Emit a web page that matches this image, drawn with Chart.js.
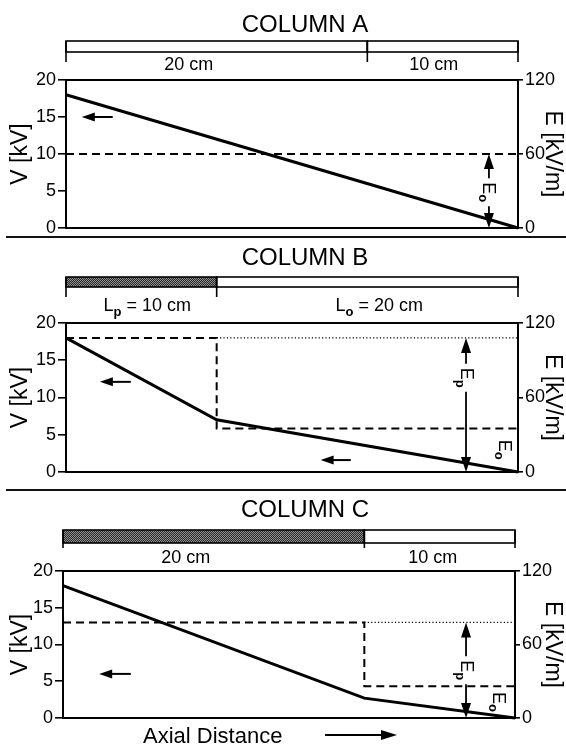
<!DOCTYPE html>
<html><head><meta charset="utf-8">
<script src="https://cdn.jsdelivr.net/npm/chart.js@4.4.1/dist/chart.umd.min.js"></script>
<style>
html,body{margin:0;padding:0;background:#fff;}
#wrap{position:relative;width:566px;height:748px;overflow:hidden;background:#fff;}
canvas{position:absolute;left:0;}
.sep{position:absolute;left:6px;width:560px;height:2px;background:#111;}
</style></head><body>
<div id="wrap">
<canvas id="cA" width="566" height="244" style="top:0px"></canvas>
<canvas id="cB" width="566" height="250" style="top:240px"></canvas>
<canvas id="cC" width="566" height="256" style="top:492px"></canvas>
<div class="sep" style="top:236px"></div>
<div class="sep" style="top:489px"></div>
</div>
<script>
// ---------- data ----------
const vTicks = [0, 5, 10, 15, 20];
const eTicks = [0, 60, 120];

const distA = [0, 30];
const voltA = [18, 0];
const fieldDistA = [0, 30];
const fieldA = [60, 60];
const segLenA = [20, 10];
const segLabelA = ['20 cm', '10 cm'];
const segPackedA = [false, false];

const distB = [0, 10, 30];
const voltB = [18, 7, 0];
const fieldDistB = [0, 10, 10, 30];
const fieldB = [108, 108, 35, 35];
const refDistB = [10, 30];
const refFieldB = [108, 108];
const segLenB = [10, 20];
const segLabelB = ['L_p = 10 cm', 'L_o = 20 cm'];
const segPackedB = [true, false];

const distC = [0, 20, 30];
const voltC = [18, 2.7, 0];
const fieldDistC = [0, 20, 20, 30];
const fieldC = [78, 78, 26, 26];
const refDistC = [20, 30];
const refFieldC = [78, 78];
const segLenC = [20, 10];
const segLabelC = ['20 cm', '10 cm'];
const segPackedC = [true, false];

// ---------- helpers ----------
const FAM = '"Liberation Sans", Arial, Helvetica, sans-serif';
function pts(xs, ys) { return xs.map((x, i) => ({x: x, y: ys[i]})); }

function parseSub(s) {
  const out = [];
  let i = 0;
  while (i < s.length) {
    if (s[i] === '_' && i + 1 < s.length) { out.push([s[i + 1], true]); i += 2; }
    else {
      let j = i;
      while (j < s.length && s[j] !== '_') j++;
      out.push([s.slice(i, j), false]); i = j;
    }
  }
  return out;
}
function drawSubText(ctx, str, cx, cy, size) {
  const parts = parseSub(str);
  const subSize = Math.round(size * 0.72);
  let total = 0;
  parts.forEach(p => { ctx.font = (p[1] ? ('bold ' + subSize) : size) + 'px ' + FAM; total += ctx.measureText(p[0]).width; });
  let x = cx - total / 2;
  ctx.textAlign = 'left';
  ctx.textBaseline = 'alphabetic';
  const base = cy + size * 0.36;
  parts.forEach(p => {
    ctx.font = (p[1] ? ('bold ' + subSize) : size) + 'px ' + FAM;
    ctx.fillText(p[0], x, p[1] ? base + size * 0.25 : base);
    x += ctx.measureText(p[0]).width;
  });
}
function stipple(ctx) {
  const c = document.createElement('canvas'); c.width = 2; c.height = 2;
  const g = c.getContext('2d');
  g.fillStyle = '#2e2e2e'; g.fillRect(0, 0, 2, 2);
  g.fillStyle = '#8a8a8a'; g.fillRect(0, 0, 1, 1); g.fillRect(1, 1, 1, 1);
  return ctx.createPattern(c, 'repeat');
}
function arrowLeft(ctx, xTip, xEnd, y) {
  ctx.lineWidth = 2; ctx.strokeStyle = '#000'; ctx.fillStyle = '#000';
  ctx.beginPath(); ctx.moveTo(xTip + 8, y); ctx.lineTo(xEnd, y); ctx.stroke();
  ctx.beginPath(); ctx.moveTo(xTip, y); ctx.lineTo(xTip + 13, y - 4.5); ctx.lineTo(xTip + 13, y + 4.5); ctx.closePath(); ctx.fill();
}
function arrowRight(ctx, xStart, xTip, y) {
  ctx.lineWidth = 1.8; ctx.strokeStyle = '#000'; ctx.fillStyle = '#000';
  ctx.beginPath(); ctx.moveTo(xStart, y); ctx.lineTo(xTip - 8, y); ctx.stroke();
  ctx.beginPath(); ctx.moveTo(xTip, y); ctx.lineTo(xTip - 16, y - 5); ctx.lineTo(xTip - 16, y + 5); ctx.closePath(); ctx.fill();
}
function rotLabel(ctx, str, x, y, size) {
  ctx.save(); ctx.translate(x, y); ctx.rotate(Math.PI / 2);
  ctx.fillStyle = '#000';
  drawSubText(ctx, str, 0, 0, size);
  ctx.restore();
}

function annot(cfg) {
  return {
    id: 'annot' + cfg.key,
    afterDraw(chart) {
      const ctx = chart.ctx, xs = chart.scales.x, yV = chart.scales.yV, yE = chart.scales.yE;
      ctx.save();
      ctx.fillStyle = '#000'; ctx.strokeStyle = '#000';
      // title
      ctx.font = '24px ' + FAM; ctx.textAlign = 'center'; ctx.textBaseline = 'middle';
      ctx.fillText(cfg.title, 305, cfg.titleY);
      // column bar
      const bounds = [0];
      cfg.segLen.forEach(l => bounds.push(bounds[bounds.length - 1] + l));
      const pat = stipple(ctx);
      for (let i = 0; i < cfg.segLen.length; i++) {
        const x0 = xs.getPixelForValue(bounds[i]), x1 = xs.getPixelForValue(bounds[i + 1]);
        ctx.fillStyle = cfg.packed[i] ? pat : '#fff';
        ctx.fillRect(x0, cfg.barTop, x1 - x0, cfg.barBot - cfg.barTop);
        ctx.lineWidth = 1.6; ctx.strokeStyle = '#000';
        ctx.strokeRect(x0, cfg.barTop, x1 - x0, cfg.barBot - cfg.barTop);
        ctx.fillStyle = '#000';
        drawSubText(ctx, cfg.segLabel[i], (x0 + x1) / 2 + cfg.labelShift[i], cfg.labelY, 18);
      }
      ctx.lineWidth = 1.6;
      bounds.forEach(b => {
        const x = xs.getPixelForValue(b);
        ctx.beginPath(); ctx.moveTo(x, cfg.barTop); ctx.lineTo(x, cfg.tickBot); ctx.stroke();
      });
      // left-pointing arrows (curve belongs to V axis)
      cfg.leftArrows.forEach(a => arrowLeft(ctx, xs.getPixelForValue(a[0]), xs.getPixelForValue(a[1]), yV.getPixelForValue(a[2])));
      // double field arrow
      const fa = cfg.fieldArrow;
      const ax = xs.getPixelForValue(fa.x);
      const yTop = yE.getPixelForValue(fa.eTop), yBot = yE.getPixelForValue(0), yTxt = yE.getPixelForValue(fa.eText);
      ctx.lineWidth = 1.8; ctx.fillStyle = '#000';
      ctx.beginPath(); ctx.moveTo(ax, yTop + 8); ctx.lineTo(ax, yTxt - 14); ctx.moveTo(ax, yTxt + 14); ctx.lineTo(ax, yBot - 8); ctx.stroke();
      ctx.beginPath(); ctx.moveTo(ax, yTop); ctx.lineTo(ax - 5, yTop + 15); ctx.lineTo(ax + 5, yTop + 15); ctx.closePath(); ctx.fill();
      ctx.beginPath(); ctx.moveTo(ax, yBot); ctx.lineTo(ax - 5, yBot - 15); ctx.lineTo(ax + 5, yBot - 15); ctx.closePath(); ctx.fill();
      rotLabel(ctx, fa.label, ax + 1, yTxt, 18);
      if (cfg.eoLabel) {
        rotLabel(ctx, 'E_o', xs.getPixelForValue(cfg.eoLabel[0]), yE.getPixelForValue(cfg.eoLabel[1]), 18);
      }
      if (cfg.axial) {
        ctx.fillStyle = '#000'; ctx.font = '22px ' + FAM; ctx.textAlign = 'left'; ctx.textBaseline = 'middle';
        ctx.fillText('Axial Distance', 143, 245);
        arrowRight(ctx, 325, 397, 243);
      }
      ctx.restore();
    }
  };
}

function makeChart(id, cfg) {
  const canvas = document.getElementById(id);
  const H = canvas.height;
  const datasets = [
    {data: pts(cfg.dist, cfg.volt), yAxisID: 'yV', borderColor: '#000', borderWidth: 3, pointRadius: 0, tension: 0, clip: false},
    {data: pts(cfg.fDist, cfg.field), yAxisID: 'yE', borderColor: '#000', borderWidth: 2, borderDash: [8, 5], pointRadius: 0, tension: 0, clip: false}
  ];
  if (cfg.refDist) datasets.push({data: pts(cfg.refDist, cfg.refField), yAxisID: 'yE', borderColor: '#000', borderWidth: 1.2, borderDash: [1.2, 2.2], pointRadius: 0, tension: 0, clip: false});
  const tickFont = {size: 18, family: FAM};
  return new Chart(canvas, {
    type: 'line',
    data: {datasets: datasets},
    options: {
      responsive: false, animation: false, events: [],
      layout: {padding: {top: cfg.plotTop, bottom: H - cfg.plotBottom, left: 0, right: 0}},
      plugins: {legend: {display: false}, tooltip: {enabled: false}, title: {display: false}},
      scales: {
        x: {type: 'linear', min: 0, max: 30, position: 'bottom',
            ticks: {display: false}, grid: {display: false, drawTicks: false},
            border: {display: true, color: '#000', width: 2},
            afterFit(s) { s.height = 0; }},
        xTop: {type: 'linear', min: 0, max: 30, position: 'top',
            ticks: {display: false}, grid: {display: false, drawTicks: false},
            border: {display: true, color: '#000', width: 2},
            afterFit(s) { s.height = 0; }},
        yV: {type: 'linear', position: 'left', min: 0, max: 20,
            afterBuildTicks(s) { s.ticks = vTicks.map(v => ({value: v})); },
            ticks: {color: '#000', font: tickFont, padding: 2},
            grid: {drawOnChartArea: false, drawTicks: true, tickLength: 8, color: '#000', lineWidth: 1.6},
            border: {display: true, color: '#000', width: 2},
            title: {display: true, text: 'V [kV]', color: '#000', font: {size: 23, family: FAM}, padding: {top: 7, bottom: 0}},
            afterFit(s) { s.width = cfg.left; }},
        yE: {type: 'linear', position: 'right', min: 0, max: 120,
            afterBuildTicks(s) { s.ticks = eTicks.map(v => ({value: v})); },
            ticks: {color: '#000', font: tickFont, padding: 2},
            grid: {drawOnChartArea: false, drawTicks: true, tickLength: 5, color: '#000', lineWidth: 1.6},
            border: {display: true, color: '#000', width: 2},
            title: {display: true, text: 'E [kV/m]', color: '#000', font: {size: 23, family: FAM}, padding: {top: 0, bottom: 0}},
            afterFit(s) { s.width = 566 - cfg.right; }}
      }
    },
    plugins: [annot(cfg)]
  });
}

makeChart('cA', {
  key: 'A', title: 'COLUMN A', dist: distA, volt: voltA, fDist: fieldDistA, field: fieldA,
  segLen: segLenA, segLabel: segLabelA, packed: segPackedA, labelShift: [-28, -9],
  plotTop: 80, plotBottom: 228, left: 66, right: 518,
  titleY: 25, barTop: 41, barBot: 52, tickBot: 62, labelY: 64,
  leftArrows: [[1.05, 3.1, 15]],
  fieldArrow: {x: 28.07, eTop: 60, eText: 29, label: 'E_o'}
});
makeChart('cB', {
  key: 'B', title: 'COLUMN B', dist: distB, volt: voltB, fDist: fieldDistB, field: fieldB,
  refDist: refDistB, refField: refFieldB,
  segLen: segLenB, segLabel: segLabelB, packed: segPackedB, labelShift: [6, 12],
  plotTop: 83, plotBottom: 232, left: 66, right: 518,
  titleY: 18, barTop: 37, barBot: 47, tickBot: 57, labelY: 65,
  leftArrows: [[2.25, 4.3, 12.1], [16.9, 18.9, 1.6]],
  fieldArrow: {x: 26.55, eTop: 108, eText: 76, label: 'E_p'},
  eoLabel: [29.2, 18]
});
makeChart('cC', {
  key: 'C', title: 'COLUMN C', dist: distC, volt: voltC, fDist: fieldDistC, field: fieldC,
  refDist: refDistC, refField: refFieldC,
  segLen: segLenC, segLabel: segLabelC, packed: segPackedC, labelShift: [-28, -7],
  plotTop: 79, plotBottom: 226, left: 63, right: 515,
  titleY: 18, barTop: 38, barBot: 51, tickBot: 56, labelY: 65,
  leftArrows: [[2.4, 4.5, 6]],
  fieldArrow: {x: 26.75, eTop: 78, eText: 39, label: 'E_p'},
  eoLabel: [29.0, 13],
  axial: true
});
</script>
</body></html>
